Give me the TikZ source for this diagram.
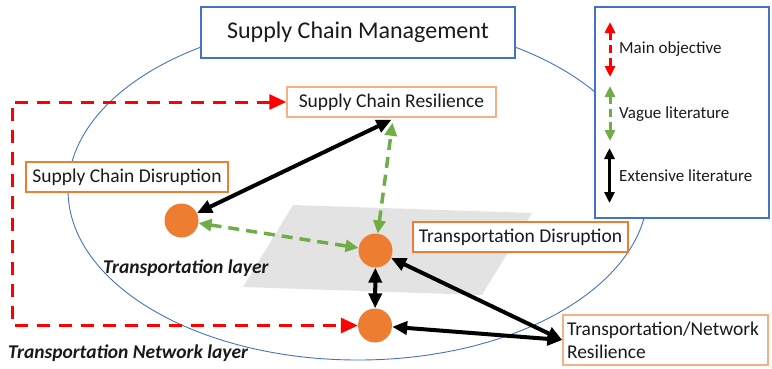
\documentclass[tikz,border=0pt]{standalone}
\usepackage{fontspec}
\setmainfont{Carlito}
\usetikzlibrary{arrows.meta,calc}
\definecolor{scorange}{HTML}{ED7D31}
\definecolor{sclight}{HTML}{F4B183}
\definecolor{scblue}{HTML}{4472C4}
\definecolor{scgreen}{HTML}{70AD47}
\definecolor{scred}{HTML}{FF0000}
\definecolor{scgray}{HTML}{E3E3E3}
\definecolor{sctext}{HTML}{1A1A1A}
\begin{document}
\begin{tikzpicture}[x=1pt,y=-1pt,
  boxfont/.style={font=\fontsize{19.5}{23.4}\selectfont, text=sctext},
  titlebox/.style={draw=scblue, line width=1.3pt, fill=white, minimum width=314pt, minimum height=51pt, inner sep=0pt, font=\fontsize{24}{28}\selectfont, text=sctext},
  legendbox/.style={draw=scblue, line width=2pt, fill=white, minimum width=174pt, minimum height=211pt, inner sep=0pt},
  lightbox/.style={boxfont, draw=sclight, line width=1.5pt, fill=white, inner sep=0pt, minimum height=30pt},
  thickbox/.style={boxfont, draw=scorange, line width=2.5pt, fill=white, inner sep=0pt, minimum height=30pt},
  dot/.style={circle, fill=scorange, minimum size=34pt, inner sep=0pt},
  layertext/.style={font=\fontsize{19.5}{23}\selectfont\bfseries\itshape, text=sctext, inner sep=0pt, anchor=base west},
  legtext/.style={font=\fontsize{17}{20}\selectfont, text=sctext, inner sep=0pt, anchor=west},
  blk/.style={line width=4pt, black, {Triangle[length=15pt,width=13pt]}-{Triangle[length=15pt,width=13pt]}},
  grn/.style={line width=3.5pt, scgreen, dash pattern=on 11pt off 7pt, {Triangle[length=13pt,width=12pt]}-{Triangle[length=13pt,width=12pt]}},
  redl/.style={line width=3pt, scred, dash pattern=on 13pt off 9pt, {Triangle[length=17pt,width=15pt]}-{Triangle[length=17pt,width=15pt]}},
  legblk/.style={line width=3pt, black, {Triangle[length=11pt,width=10pt]}-{Triangle[length=11pt,width=10pt]}},
  leggrn/.style={line width=3pt, scgreen, dash pattern=on 8pt off 5pt, {Triangle[length=11pt,width=10pt]}-{Triangle[length=11pt,width=10pt]}},
  legred/.style={line width=3pt, scred, dash pattern=on 8pt off 5pt, {Triangle[length=11pt,width=10pt]}-{Triangle[length=11pt,width=10pt]}}
]
\useasboundingbox (0,0) rectangle (772,368);
% ellipse (Supply Chain Management domain)
\draw[scblue, line width=0.9pt] (358,190) ellipse [x radius=290, y radius=170];
% transportation layer plane
\fill[scgray] (293,205) -- (532,213) -- (482,295) -- (243,287) -- cycle;
% title and legend
\node[titlebox] (title) at (358,32.5) {Supply Chain Management};
\node[legendbox] (legend) at (682,112.5) {};
% boxes
\node[lightbox, minimum width=209pt] (SCR) at (391.5,102) {Supply Chain Resilience};
\node[thickbox, minimum width=202pt] (SCD) at (127,177) {Supply Chain Disruption};
\node[thickbox, minimum width=215pt] (TD) at (520.5,237) {Transportation Disruption};
\node[lightbox, text width=197pt, inner xsep=4pt, inner ysep=2pt, minimum height=50pt, align=left] (TNR) at (665.5,340) {Transportation/Network\\Resilience};
% dots
\node[dot] (C1) at (181.5,220.5) {};
\node[dot] (C2) at (375.5,250.5) {};
\node[dot] (C3) at (375,325.5) {};
% layer labels
\node[layertext] (TL) at (103,273) {Transportation layer};
\node[layertext] (TNL) at (8,358) {Transportation Network layer};
% red main objective path
\coordinate (rtop) at (12,102);
\coordinate (rbot) at (12,325.5);
\draw[redl] (SCR.west) -- (rtop) -- (rbot) -- (C3);
% black arrows
\draw[blk] (C1) -- ([yshift=-2pt]SCR.south);
\draw[blk] (C2) -- (C3);
\draw[blk] (C2) -- (TNR.west);
\draw[blk] (C3) -- (TNR.west);
% green arrows
\draw[grn] (C2) -- ([xshift=1pt,yshift=-5pt]SCR.south);
\draw[grn] (C1) -- (C2);
% legend
\coordinate (lr1) at (610,22);
\coordinate (lr2) at (610,77);
\coordinate (lg1) at (610,86);
\coordinate (lg2) at (610,141);
\coordinate (lb1) at (609.5,148);
\coordinate (lb2) at (609.5,203);
\draw[legred] (lr1) -- (lr2);
\draw[leggrn] (lg1) -- (lg2);
\draw[legblk] (lb1) -- (lb2);
\node[legtext] (LT1) at (619,49) {Main objective};
\node[legtext] (LT2) at (619,114) {Vague literature};
\node[legtext] (LT3) at (619,176) {Extensive literature};
\end{tikzpicture}
\end{document}
